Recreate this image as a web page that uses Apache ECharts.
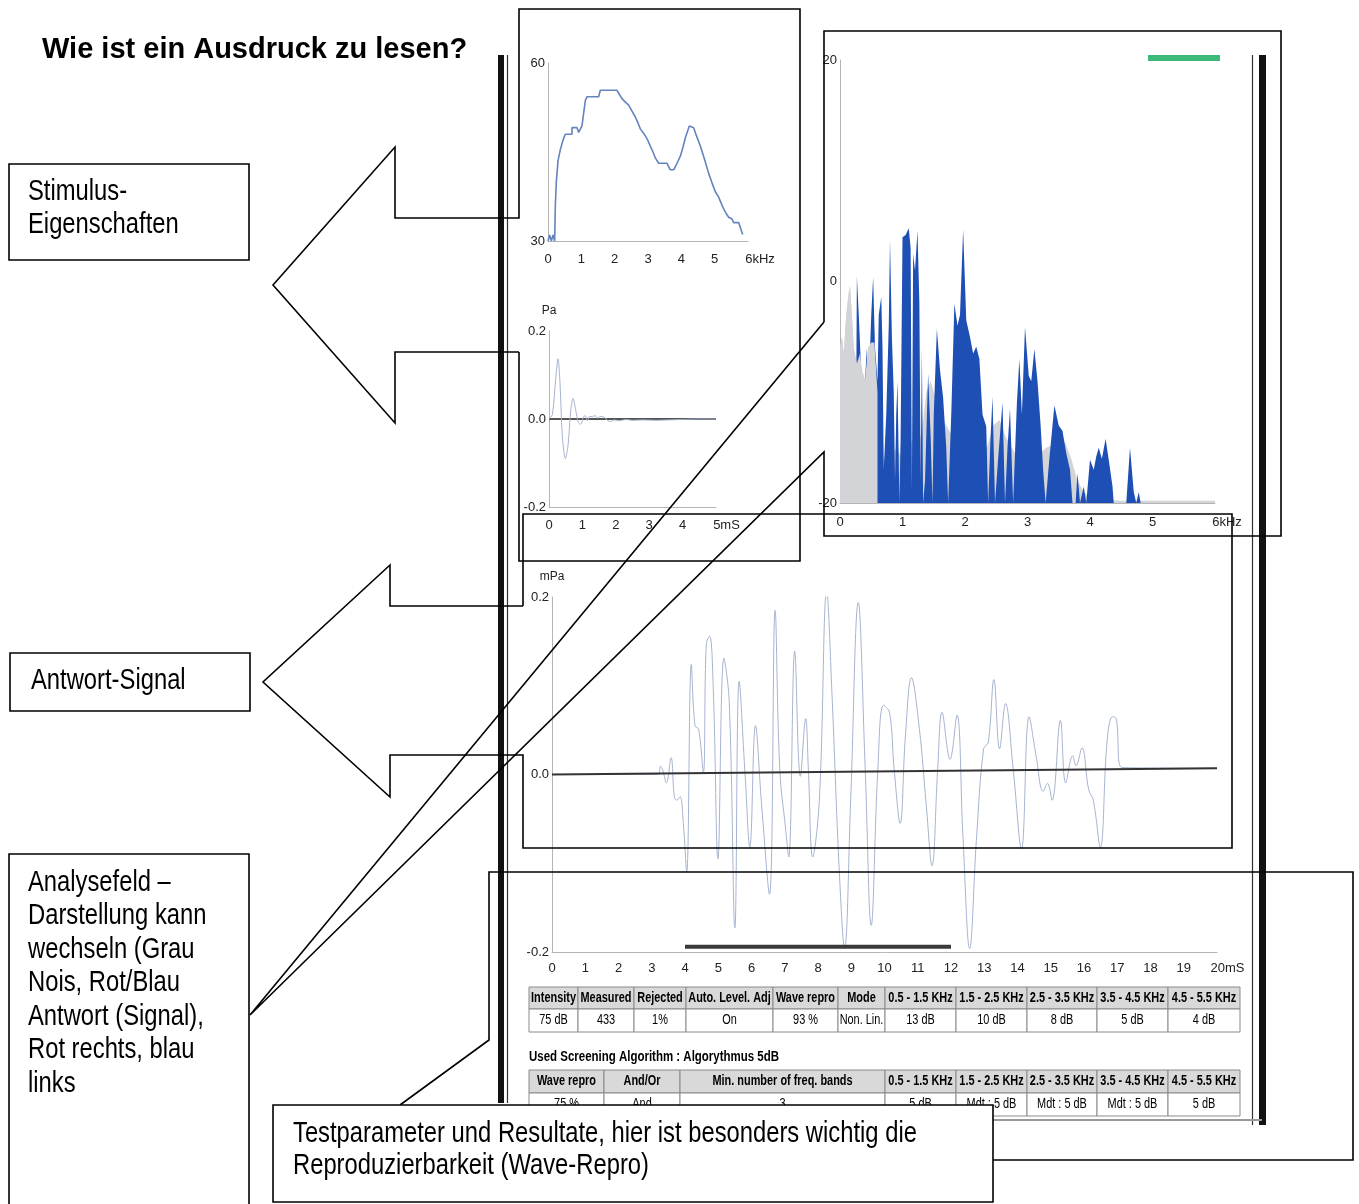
<!DOCTYPE html>
<html>
<head>
<meta charset="utf-8">
<script src="https://cdn.jsdelivr.net/npm/echarts@6/dist/echarts.min.js"></script>
<style>
html, body { margin: 0; padding: 0; background: #fff; }
#chart { width: 1359px; height: 1204px; }
</style>
</head>
<body>
<div id="chart"></div>
<script>
// Stimulus spectrum (kHz / dB)
var stimSpecKHz = [0, 0.05, 0.1, 0.15, 0.2, 0.22, 0.25, 0.3, 0.37, 0.45, 0.52, 0.72, 0.72, 0.87, 0.92, 1.02, 1.12, 1.17, 1.52, 1.57, 2.07, 2.12, 2.22, 2.32, 2.42, 2.52, 2.62, 2.7, 2.77, 2.85, 2.92, 3.0, 3.07, 3.15, 3.22, 3.32, 3.57, 3.67, 3.77, 3.87, 3.97, 4.05, 4.12, 4.24, 4.37, 4.45, 4.57, 4.7, 4.82, 4.92, 5.02, 5.12, 5.2, 5.27, 5.35, 5.42, 5.52, 5.57, 5.72, 5.84];
var stimSpecDb  = [30, 31, 30, 31, 30, 36, 40, 43.5, 45.4, 47, 48, 48, 49.1, 49.1, 48.3, 49.4, 53.7, 54.3, 54.3, 55.4, 55.4, 54.9, 54, 53.4, 52.9, 51.9, 50.9, 49.9, 48.9, 48.3, 47.7, 46.9, 46, 45, 44, 43.1, 43.1, 42, 42, 43.1, 44.3, 45.8, 47.4, 49.4, 49.1, 47.8, 46, 43.7, 41.4, 39.8, 38.3, 37.4, 36.3, 35.4, 34.6, 34, 33.7, 33.1, 33.1, 31.1];

// Stimulus waveform (ms / Pa)
var stimWaveMs = [0, 0.1, 0.2, 0.27, 0.33, 0.4, 0.49, 0.57, 0.65, 0.72, 0.8, 0.88, 0.95, 1.02, 1.08, 1.15, 1.22, 1.3, 1.38, 1.45, 1.55, 1.65, 1.75, 1.85, 1.95, 2.1, 2.3, 2.5, 2.8, 3.2, 3.6, 4.0, 4.5, 5.0];
var stimWavePa = [0, 0.01, 0.09, 0.137, 0.08, -0.04, -0.09, -0.06, 0.02, 0.047, 0.02, -0.008, -0.012, 0.002, 0.008, -0.004, 0.006, 0.005, 0.008, 0.002, 0.006, 0.004, -0.003, -0.006, -0.002, -0.004, -0.001, -0.003, -0.002, -0.003, -0.002, -0.001, 0, 0];

// Response spectrum: signal (blue) and noise (grey), kHz / dB
var sigKHz = [0, 0.25, 0.27, 0.3, 0.33, 0.36, 0.4, 0.43, 0.45, 0.5, 0.53, 0.56, 0.6, 0.62, 0.66, 0.68, 0.7, 0.74, 0.78, 0.8, 0.83, 0.86, 0.88, 0.9, 0.92, 0.95, 0.97, 1.0, 1.05, 1.1, 1.13, 1.15, 1.17, 1.2, 1.24, 1.27, 1.29, 1.31, 1.33, 1.36, 1.41, 1.45, 1.48, 1.5, 1.55, 1.6, 1.65, 1.7, 1.73, 1.78, 1.83, 1.88, 1.92, 1.97, 2.02, 2.08, 2.13, 2.18, 2.23, 2.28, 2.34, 2.37, 2.41, 2.44, 2.48, 2.53, 2.6, 2.64, 2.68, 2.72, 2.77, 2.83, 2.87, 2.91, 2.96, 3.02, 3.06, 3.11, 3.16, 3.21, 3.25, 3.29, 3.35, 3.43, 3.5, 3.56, 3.62, 3.68, 3.72, 3.77, 3.8, 3.84, 3.9, 3.94, 4.0, 4.06, 4.1, 4.14, 4.19, 4.25, 4.31, 4.36, 4.38, 4.58, 4.64, 4.7, 4.74, 4.78, 4.81, 6];
var sigDb  = [-20, -20, 0.5, -3, -7, -10, -9, -6, -11, -3, 0.4, -6, -9, -3, -1.4, -6, -17, -12, -4, 3.8, -5, -10, -18, -12, -9, -20, -14, 4, 4.2, 4.8, 3, -19, 2.5, 1, 4.6, -2, -18, -6, -20, -18, -8.3, -14, -20, -12, -4.3, -8, -10.5, -15, -20, -12, -2, -4, -3, 4.7, -3.5, -5, -6.5, -5.9, -7, -12, -13.1, -20, -14, -10.4, -20, -16, -10.9, -20, -15, -11.5, -20, -11, -7, -12, -4.1, -8.5, -9, -6.1, -9, -13, -17, -20, -16, -11.2, -13, -13.5, -15.5, -17, -20, -20, -17.3, -20, -18.5, -20, -16.1, -17, -15.8, -15, -16, -14.2, -16.5, -18.5, -20, -20, -15, -19, -20, -19, -20, -20];
var noiseKHz = [0, 0.03, 0.06, 0.1, 0.14, 0.16, 0.19, 0.22, 0.27, 0.32, 0.35, 0.4, 0.45, 0.5, 0.55, 0.6, 0.63, 0.7, 0.8, 0.9, 1.0, 1.1, 1.2, 1.3, 1.38, 1.45, 1.5, 1.6, 1.7, 1.8, 2.0, 2.2, 2.35, 2.45, 2.55, 2.65, 2.75, 2.85, 2.95, 3.1, 3.3, 3.5, 3.6, 3.7, 3.8, 3.9, 4.0, 4.2, 4.5, 5.0, 6.0];
var noiseDb  = [-6, -5, -6.5, -3, -1, -0.4, -3, -6, -7.4, -6.5, -8, -8.9, -6, -5.5, -5.5, -10, -13, -16, -16, -15, -16, -15, -14, -14, -10, -9, -10, -12, -13, -14, -13, -14, -15, -13, -12.5, -14, -15, -16, -17, -16, -15, -14.5, -14.5, -16, -18, -19, -19.5, -19.7, -19.8, -19.8, -19.8];
var noiseOverSignalUpTo = 0.62; // below this frequency the noise lies over the signal

// Response waveform (ms / mPa)
var respMs = [0, 3.2, 3.26, 3.33, 3.44, 3.58, 3.68, 3.75, 3.85, 3.95, 4.05, 4.19, 4.3, 4.41, 4.55, 4.64, 4.74, 4.85, 4.99, 5.17, 5.33, 5.5, 5.63, 5.81, 5.95, 6.12, 6.3, 6.54, 6.71, 6.85, 7.02, 7.12, 7.3, 7.47, 7.63, 7.71, 7.84, 8.04, 8.26, 8.43, 8.64, 8.8, 8.98, 9.21, 9.42, 9.6, 9.8, 9.97, 10.15, 10.29, 10.47, 10.63, 10.81, 11.05, 11.25, 11.43, 11.6, 11.73, 11.97, 12.18, 12.36, 12.56, 12.77, 12.98, 13.12, 13.29, 13.46, 13.64, 13.87, 14.12, 14.35, 14.56, 14.77, 14.9, 15.04, 15.29, 15.45, 15.66, 15.76, 15.94, 16.14, 16.28, 16.49, 16.7, 16.86, 16.97, 17.13, 20];
var respV  = [0, 0, 0.0095, 0.005, -0.0095, 0.019, -0.025, -0.029, -0.025, -0.055, -0.11, 0.124, 0.055, 0.051, 0.002, 0.147, 0.156, 0.097, -0.095, 0.131, 0.082, -0.173, 0.105, -0.002, -0.082, 0.055, -0.032, -0.135, 0.185, 0.006, -0.059, -0.093, 0.139, -0.002, 0.063, 0.006, -0.093, -0.029, 0.206, 0.082, -0.109, -0.196, -0.032, 0.194, 0.006, -0.17, 0.006, 0.078, 0.07, 0.006, -0.055, 0.044, 0.109, 0.051, -0.032, -0.103, 0.006, 0.07, 0.017, 0.067, -0.07, -0.196, -0.07, 0.029, 0.036, 0.107, 0.029, 0.08, 0.006, -0.084, 0.065, 0.021, -0.019, -0.01, -0.029, 0.061, -0.0095, 0.021, 0.01, 0.03, -0.017, -0.029, -0.082, 0.04, 0.065, 0.063, 0.008, 0.007];
var respBaseline = [0, 0.007];
var analysisWindowMs = [4, 12];

// Tables
var t1Head = ['Intensity', 'Measured', 'Rejected', 'Auto. Level. Adj', 'Wave repro', 'Mode', '0.5 - 1.5 KHz', '1.5 - 2.5 KHz', '2.5 - 3.5 KHz', '3.5 - 4.5 KHz', '4.5 - 5.5 KHz'];
var t1Vals = ['75 dB', '433', '1%', 'On', '93 %', 'Non. Lin.', '13 dB', '10 dB', '8 dB', '5 dB', '4 dB'];
var t2Head = ['Wave repro', 'And/Or', 'Min. number of freq. bands', '0.5 - 1.5 KHz', '1.5 - 2.5 KHz', '2.5 - 3.5 KHz', '3.5 - 4.5 KHz', '4.5 - 5.5 KHz'];
var t2Vals = ['75 %', 'And', '3', '5 dB', 'Mdt : 5 dB', 'Mdt : 5 dB', 'Mdt : 5 dB', '5 dB'];
var algoText = 'Used Screening Algorithm : Algorythmus 5dB';

function zip(a, b) { return a.map(function (v, i) { return [v, b[i]]; }); }

var SANS = '"Liberation Sans", Arial, sans-serif';
var lblColor = '#222';
var axisGrey = '#b5b5b5';
var waveBlue = '#a6b3d0';

function xAx(grid, max, unit, margin, pad) {
  return {
    type: 'value', gridIndex: grid, min: 0, max: max, interval: 1,
    axisLine: { show: true, onZero: false, lineStyle: { color: axisGrey, width: 1 } },
    axisTick: { show: false }, splitLine: { show: false },
    axisLabel: {
      color: lblColor, fontFamily: SANS, fontSize: 13, margin: margin, showMaxLabel: true,
      formatter: function (v) { return v === max ? '{u|' + v + unit + '}' : String(v); },
      rich: { u: { color: lblColor, fontFamily: SANS, fontSize: 13, padding: [0, 0, 0, pad] } }
    }
  };
}
function yAx(grid, min, max, step, digits, name) {
  return {
    type: 'value', gridIndex: grid, min: min, max: max, interval: step,
    name: name || '', nameLocation: 'end', nameGap: 14,
    nameTextStyle: { color: lblColor, fontFamily: SANS, fontSize: 12 },
    axisLine: { show: true, onZero: false, lineStyle: { color: axisGrey, width: 1 } },
    axisTick: { show: false }, splitLine: { show: false },
    axisLabel: {
      color: lblColor, fontFamily: SANS, fontSize: 13, margin: 3,
      formatter: function (v) { return v.toFixed(digits); }
    }
  };
}

// annotation graphics
var gfx = [];
function line(points, z) {
  gfx.push({ type: 'polyline', z: z || 100, shape: { points: points }, style: { stroke: '#000', lineWidth: 1.6, fill: null } });
}
function box(x, y, w, h, z) {
  gfx.push({ type: 'rect', z: z || 100, shape: { x: x, y: y, width: w, height: h }, style: { fill: '#fff', stroke: '#000', lineWidth: 1.6 } });
}
function txt(s, x, y, font, opts) {
  opts = opts || {};
  var st = { text: s, x: 0, y: 0, font: font, fill: '#000', verticalAlign: opts.verticalAlign || 'middle', align: opts.align || 'left' };
  if (opts.lineHeight) st.lineHeight = opts.lineHeight;
  gfx.push({ type: 'text', x: x, y: y, scaleX: opts.sx || 1, z: opts.z || 105, style: st });
}

// printout frame
gfx.push({ type: 'rect', z: 50, shape: { x: 498, y: 55, width: 6, height: 1048 }, style: { fill: '#111' } });
gfx.push({ type: 'line', z: 50, shape: { x1: 507.5, y1: 55, x2: 507.5, y2: 1103 }, style: { stroke: '#333', lineWidth: 1.2 } });
gfx.push({ type: 'line', z: 50, shape: { x1: 1252.5, y1: 55, x2: 1252.5, y2: 1125 }, style: { stroke: '#333', lineWidth: 1.2 } });
gfx.push({ type: 'rect', z: 50, shape: { x: 1259, y: 55, width: 7, height: 1070 }, style: { fill: '#111' } });
gfx.push({ type: 'line', z: 50, shape: { x1: 505, y1: 1120, x2: 1262, y2: 1120 }, style: { stroke: '#999', lineWidth: 2 } });
// green indicator
gfx.push({ type: 'rect', z: 50, shape: { x: 1148, y: 55, width: 72, height: 6 }, style: { fill: '#3dba7a' } });

// tables
var t1X = [529, 578, 634, 686, 773, 838, 885, 956, 1027, 1097, 1168, 1240];
var t2X = [529, 604, 680, 885, 956, 1027, 1097, 1168, 1240];
function table(xs, y0, rh, heads, vals) {
  for (var i = 0; i < heads.length; i++) {
    var w = xs[i + 1] - xs[i];
    gfx.push({ type: 'rect', z: 60, shape: { x: xs[i], y: y0, width: w, height: rh[0] }, style: { fill: '#d9d9d9', stroke: '#8a8a8a', lineWidth: 1 } });
    gfx.push({ type: 'rect', z: 60, shape: { x: xs[i], y: y0 + rh[0], width: w, height: rh[1] }, style: { fill: '#fff', stroke: '#8a8a8a', lineWidth: 1 } });
    txt(heads[i], xs[i] + w / 2, y0 + rh[0] / 2, 'bold 14px ' + SANS, { align: 'center', z: 62, sx: 0.78 });
    txt(vals[i], xs[i] + w / 2, y0 + rh[0] + rh[1] / 2, '14px ' + SANS, { align: 'center', z: 62, sx: 0.78 });
  }
}
table(t1X, 987, [22, 23], t1Head, t1Vals);
txt(algoText, 529, 1057, 'bold 14px ' + SANS, { z: 62, sx: 0.82 });
table(t2X, 1070, [23, 23], t2Head, t2Vals);

// callouts
line([[519, 352], [519, 561], [800, 561], [800, 9], [519, 9], [519, 218], [395, 218], [395, 147], [273, 285], [395, 423], [395, 352], [519, 352]]);
line([[523, 606], [523, 514], [1232, 514], [1232, 848], [523, 848], [523, 755], [390, 755], [390, 797], [263, 682], [390, 565], [390, 606], [523, 606]]);
line([[824, 322], [824, 31], [1281, 31], [1281, 536], [824, 536], [824, 452], [250, 1015], [824, 322]]);
line([[400, 1105], [489, 1040], [489, 872], [1353, 872], [1353, 1160], [993, 1160]]);
box(9, 164, 240, 96);
box(10, 653, 240, 58);
box(9, 854, 240, 360);
box(273, 1105, 720, 97, 110);

var BIG = '29px ' + SANS;
var NX = 0.82;
txt('Wie ist ein Ausdruck zu lesen?', 42, 50, 'bold 29px ' + SANS);
txt('Stimulus-\nEigenschaften', 28, 175, BIG, { verticalAlign: 'top', lineHeight: 33, sx: NX });
txt('Antwort-Signal', 31, 681, BIG, { sx: NX });
txt('Analysefeld –\nDarstellung kann\nwechseln (Grau\nNois, Rot/Blau\nAntwort (Signal),\nRot rechts, blau\nlinks', 28, 866, BIG, { verticalAlign: 'top', lineHeight: 33.5, sx: NX });
txt('Testparameter und Resultate, hier ist besonders wichtig die\nReproduzierbarkeit (Wave-Repro)', 293, 1118, BIG, { verticalAlign: 'top', lineHeight: 32, z: 115, sx: NX });

var noiseFront = zip(noiseKHz, noiseDb).filter(function (p) { return p[0] <= noiseOverSignalUpTo; });
var GREY = '#d2d4d8', BLUE = '#1e4fb5';
function areaSeries(data, color) {
  return { type: 'line', xAxisIndex: 2, yAxisIndex: 2, data: data, showSymbol: false,
    lineStyle: { width: 0, opacity: 0 }, areaStyle: { color: color, opacity: 1, origin: 'start' } };
}

var chart = echarts.init(document.getElementById('chart'));
chart.setOption({
  animation: false,
  backgroundColor: '#fff',
  grid: [
    { left: 548, top: 63, width: 200, height: 178 },
    { left: 549, top: 331, width: 167, height: 176 },
    { left: 840, top: 60, width: 375, height: 443 },
    { left: 552, top: 597, width: 665, height: 355 }
  ],
  xAxis: [
    xAx(0, 6, 'kHz', 12, 24),
    xAx(1, 5, 'mS', 12, 21),
    xAx(2, 6, 'kHz', 13, 24),
    xAx(3, 20, 'mS', 10, 21)
  ],
  yAxis: [
    yAx(0, 30, 60, 30, 0),
    yAx(1, -0.2, 0.2, 0.2, 1, 'Pa'),
    yAx(2, -20, 20, 20, 0),
    yAx(3, -0.2, 0.2, 0.2, 1, 'mPa')
  ],
  graphic: gfx,
  series: [
    { type: 'line', xAxisIndex: 0, yAxisIndex: 0, data: zip(stimSpecKHz, stimSpecDb), showSymbol: false,
      lineStyle: { color: '#6583bd', width: 1.6 } },
    { type: 'line', xAxisIndex: 1, yAxisIndex: 1, data: [[0, 0], [5, 0]], showSymbol: false,
      lineStyle: { color: '#555', width: 2 } },
    { type: 'line', xAxisIndex: 1, yAxisIndex: 1, data: zip(stimWaveMs, stimWavePa), showSymbol: false, smooth: 0.3,
      lineStyle: { color: waveBlue, width: 1 } },
    areaSeries(zip(noiseKHz, noiseDb), GREY),
    areaSeries(zip(sigKHz, sigDb), BLUE),
    areaSeries(noiseFront, GREY),
    { type: 'line', xAxisIndex: 3, yAxisIndex: 3, data: zip(respMs, respV), showSymbol: false, smooth: 0.4,
      lineStyle: { color: waveBlue, width: 1 } },
    { type: 'line', xAxisIndex: 3, yAxisIndex: 3, data: [[0, respBaseline[0]], [20, respBaseline[1]]], showSymbol: false,
      lineStyle: { color: '#333', width: 2 } },
    { type: 'line', xAxisIndex: 3, yAxisIndex: 3, data: [[analysisWindowMs[0], -0.194], [analysisWindowMs[1], -0.194]], showSymbol: false,
      lineStyle: { color: '#3a3a3a', width: 4 } }
  ]
});
</script>
</body>
</html>
